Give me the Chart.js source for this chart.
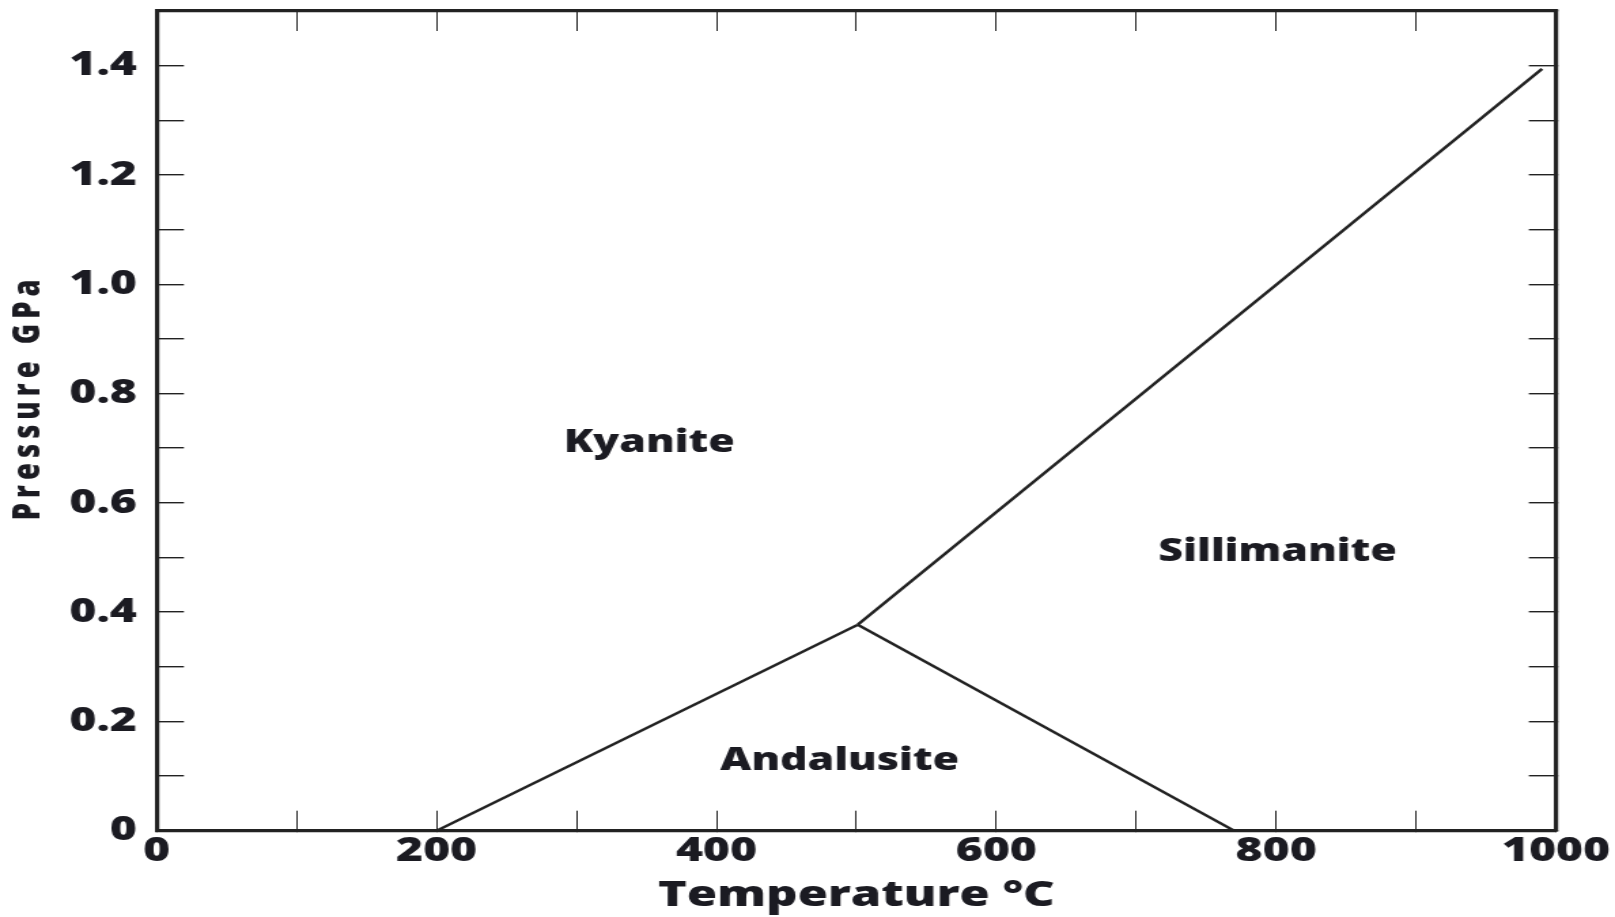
<!DOCTYPE html>
<html>
<head>
<meta charset="utf-8">
<script src="https://cdn.jsdelivr.net/npm/chart.js@4"></script>
<style>
  html, body { margin: 0; padding: 0; background: #ffffff; }
  #c { display: block; width: 1615px; height: 917px; }
</style>
</head>
<body>
<canvas id="c" width="1188" height="917" style="width:1615px;height:917px;"></canvas>
<script>
// ---- data ----
const xTickValues = [0, 100, 200, 300, 400, 500, 600, 700, 800, 900, 1000];
const xTickLabels = ['0', '', '200', '', '400', '', '600', '', '800', '', '1000'];
const yTickLabels = ['0', '', '0.2', '', '0.4', '', '0.6', '', '0.8', '', '1.0', '', '1.2', '', '1.4', ''];

const boundaryNames = ['Kyanite–Andalusite', 'Andalusite–Sillimanite', 'Kyanite–Sillimanite'];
const boundaryT = [[200, 501], [501, 770], [501, 990]];
const boundaryP = [[0, 0.377], [0.377, 0], [0.377, 1.394]];

const regionNames = ['Kyanite', 'Sillimanite', 'Andalusite'];
const regionT = [352, 801, 488];
const regionP = [0.714, 0.515, 0.131];

const xTitle = 'Temperature °C';
const yTitle = '\u2002\u2002\u2009Pressure GPa';

// ---- styling ----
const FONT = "'Open Sans', 'Noto Sans', sans-serif";
const INK = '#1b1b22';
const LINE = '#222222';
const REGION_SIZE = 31.5;

const datasets = boundaryNames.map((name, i) => ({
  label: name,
  data: boundaryT[i].map((t, j) => ({ x: t, y: boundaryP[i][j] })),
  showLine: true,
  borderColor: LINE,
  borderWidth: 2.5,
  pointRadius: 0,
  pointHoverRadius: 0,
  fill: false,
  tension: 0
}));

const regionLabelPlugin = {
  id: 'regionLabels',
  beforeDraw(chart) {
    chart.ctx.letterSpacing = '0px';
  },
  afterDatasetsDraw(chart) {
    const ctx = chart.ctx;
    const xs = chart.scales.x, ys = chart.scales.y;
    ctx.save();
    ctx.letterSpacing = '0px';
    ctx.font = "800 " + REGION_SIZE + "px " + FONT;
    ctx.fillStyle = INK;
    ctx.textAlign = 'center';
    ctx.textBaseline = 'alphabetic';
    const capHalf = REGION_SIZE * 0.357;
    regionNames.forEach((name, i) => {
      ctx.fillText(name, xs.getPixelForValue(regionT[i]), ys.getPixelForValue(regionP[i]) + capHalf);
    });
    ctx.restore();
    // the vertical title layer (z > 0) is drawn next, with wider spacing
    ctx.letterSpacing = '5px';
  },
  afterDraw(chart) {
    chart.ctx.letterSpacing = '0px';
  }
};

const tickFont = { family: FONT, size: 34, weight: '800', lineHeight: 1.2 };
const noPad = s => { s.paddingTop = 0; s.paddingBottom = 0; s.paddingLeft = 0; s.paddingRight = 0; };

new Chart(document.getElementById('c'), {
  type: 'scatter',
  data: { datasets },
  plugins: [regionLabelPlugin],
  options: {
    responsive: false,
    devicePixelRatio: 1,
    animation: false,
    layout: { padding: 0 },
    plugins: { legend: { display: false }, tooltip: { enabled: false } },
    scales: {
      x: {
        type: 'linear', position: 'bottom', min: 0, max: 1000,
        afterBuildTicks: s => { s.ticks = xTickValues.map(v => ({ value: v })); },
        ticks: { callback: (v, i) => xTickLabels[i], font: tickFont, color: INK, padding: 20, maxRotation: 0, autoSkip: false },
        grid: { drawOnChartArea: false, drawTicks: true, tickLength: -20, color: LINE, lineWidth: 1 },
        border: { display: true, color: LINE, width: 3.2 },
        title: { display: true, text: xTitle, color: INK, font: { family: FONT, size: 36, weight: '800', lineHeight: 1.2 }, padding: 0 },
        afterFit: s => { s.height = 86.3; noPad(s); }
      },
      x2: {
        type: 'linear', position: 'top', min: 0, max: 1000,
        afterBuildTicks: s => { s.ticks = xTickValues.map(v => ({ value: v })); },
        ticks: { display: false },
        grid: { drawOnChartArea: false, drawTicks: true, tickLength: -20, color: LINE, lineWidth: 1 },
        border: { display: true, color: LINE, width: 3.2 },
        afterFit: s => { s.height = 11; noPad(s); }
      },
      y: {
        type: 'linear', position: 'left', min: 0, max: 1.5,
        ticks: { stepSize: 0.1, callback: (v, i) => yTickLabels[i], font: tickFont, color: INK, padding: 34.6, autoSkip: false },
        grid: { drawOnChartArea: false, drawTicks: true, tickLength: -20, color: LINE, lineWidth: 1.4 },
        border: { display: true, color: LINE, width: 3.2 },
        afterFit: s => { s.width = 70.3; noPad(s); }
      },
      yTitle: {
        type: 'linear', position: 'left', weight: 10, min: 0, max: 1,
        ticks: { display: false },
        grid: { display: false, drawTicks: false, z: 1 },
        border: { display: false },
        title: { display: true, text: yTitle, color: INK, font: { family: FONT, size: 27.5, weight: '800', lineHeight: 1.2 }, padding: { top: 4.3, bottom: 0 } },
        afterFit: s => { s.width = 45; noPad(s); }
      },
      y2: {
        type: 'linear', position: 'right', min: 0, max: 1.5,
        ticks: { display: false, stepSize: 0.1 },
        grid: { drawOnChartArea: false, drawTicks: true, tickLength: -20, color: LINE, lineWidth: 1.4 },
        border: { display: true, color: LINE, width: 3.2 },
        afterFit: s => { s.width = 43.4; noPad(s); }
      }
    }
  }
});
</script>
</body>
</html>
